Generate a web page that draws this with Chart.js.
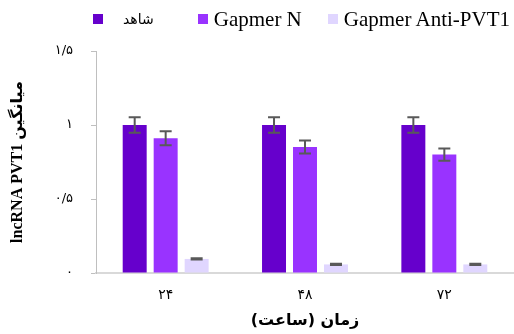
<!DOCTYPE html>
<html>
<head>
<meta charset="utf-8">
<script src="https://cdn.jsdelivr.net/npm/chart.js@4.4.0/dist/chart.umd.min.js"></script>
<style>
  body { margin: 0; background: #fff; }
  #wrap { position: relative; width: 514px; height: 334px; }
  #legend-container { position: absolute; left: 93px; top: 8px; height: 22px; display: flex; align-items: center; }
  .legend-item { display: flex; align-items: center; }
  .legend-box { display: inline-block; width: 10px; height: 10px; }
  .legend-text { font-family: 'Liberation Serif', serif; font-size: 21px; color: #000; line-height: 22px; }
  .legend-fa { font-family: 'DejaVu Sans', sans-serif; font-size: 14px; }
</style>
</head>
<body>
<div id="wrap">
  <canvas id="barChart" width="514" height="334"></canvas>
  <div id="legend-container"></div>
</div>
<script>
var hours = ['۲۴', '۴۸', '۷۲'];
var seriesNames = ['شاهد', 'Gapmer N', 'Gapmer Anti-PVT1'];
var seriesColors = ['#6600CC', '#9933FF', '#E0D6FF'];
var controlMean = [1.0, 1.0, 1.0];
var controlErr = [0.052, 0.052, 0.052];
var gapmerNMean = [0.91, 0.851, 0.80];
var gapmerNErr = [0.047, 0.044, 0.041];
var antiMean = [0.095, 0.058, 0.058];
var antiErr = [0.004, 0.004, 0.004];
var yTicks = [0, 0.5, 1, 1.5];

function toFa(v) {
  var digits = '۰۱۲۳۴۵۶۷۸۹';
  return String(v).replace('.', '/').replace(/[0-9]/g, function (d) { return digits[+d]; });
}

// draw error bars from each dataset's errors array
var errorBars = {
  id: 'errorBars',
  afterDatasetsDraw: function (chart) {
    var ctx = chart.ctx;
    var y = chart.scales.y;
    ctx.save();
    ctx.strokeStyle = '#595959';
    ctx.lineWidth = 2;
    chart.data.datasets.forEach(function (ds, i) {
      var meta = chart.getDatasetMeta(i);
      meta.data.forEach(function (bar, j) {
        var hi = y.getPixelForValue(ds.data[j] + ds.errors[j]);
        var lo = y.getPixelForValue(ds.data[j] - ds.errors[j]);
        ctx.beginPath();
        ctx.moveTo(bar.x, hi); ctx.lineTo(bar.x, lo);
        ctx.moveTo(bar.x - 6, hi); ctx.lineTo(bar.x + 6, hi);
        ctx.moveTo(bar.x - 6, lo); ctx.lineTo(bar.x + 6, lo);
        ctx.stroke();
      });
    });
    ctx.restore();
  }
};

var ctx = document.getElementById('barChart').getContext('2d');
var myBarChart = new Chart(ctx, {
  type: 'bar',
  data: {
    labels: hours,
    datasets: [
      { label: seriesNames[0], data: controlMean, errors: controlErr, backgroundColor: seriesColors[0] },
      { label: seriesNames[1], data: gapmerNMean, errors: gapmerNErr, backgroundColor: seriesColors[1] },
      { label: seriesNames[2], data: antiMean, errors: antiErr, backgroundColor: seriesColors[2] }
    ]
  },
  options: {
    responsive: false,
    animation: false,
    layout: { padding: { top: 51, right: 0, bottom: 0, left: 0 } },
    datasets: {
      bar: { barPercentage: 0.774, categoryPercentage: 0.667 }
    },
    scales: {
      x: {
        grid: { display: false, drawTicks: false },
        border: { color: '#d9d9d9', width: 2 },
        ticks: {
          color: '#000',
          padding: 14,
          font: { family: "'DejaVu Sans', sans-serif", size: 14 }
        },
        title: {
          display: true,
          text: 'زمان (ساعت)',
          color: '#000',
          padding: { top: 0, bottom: 4 },
          font: { family: "'DejaVu Sans', sans-serif", size: 16, weight: 'bold' }
        },
        afterFit: function (scale) { scale.height = 61; }
      },
      y: {
        min: 0,
        max: 1.5,
        afterBuildTicks: function (scale) {
          scale.ticks = yTicks.map(function (v) { return { value: v }; });
        },
        grid: { drawOnChartArea: false, drawTicks: true, tickLength: 5, color: '#bfbfbf' },
        border: { color: '#bfbfbf', width: 1 },
        ticks: {
          color: '#000',
          padding: 18,
          font: { family: "'DejaVu Sans', sans-serif", size: 13 },
          callback: function (v) { return toFa(v); }
        },
        title: {
          display: true,
          text: 'lncRNA PVT1 میانگین',
          color: '#000',
          padding: { top: 8, bottom: 0 },
          font: { family: "'Liberation Serif', 'DejaVu Sans', serif", size: 16, weight: 'bold' }
        },
        afterFit: function (scale) { scale.width = 96; }
      }
    },
    plugins: {
      legend: { display: false },
      tooltip: { enabled: false }
    }
  },
  plugins: [errorBars]
});

// legend built by hand to match the spacing of the original
var legendContainer = document.getElementById('legend-container');
legendContainer.innerHTML =
  '<span class="legend-item"><span class="legend-box" style="background:' + seriesColors[0] + ';margin-right:20px"></span>' +
  '<span class="legend-text legend-fa">' + seriesNames[0] + '</span></span>' +
  '<span class="legend-item" style="margin-left:44px"><span class="legend-box" style="background:' + seriesColors[1] + ';margin-right:6px"></span>' +
  '<span class="legend-text">' + seriesNames[1] + '</span></span>' +
  '<span class="legend-item" style="margin-left:26px"><span class="legend-box" style="background:' + seriesColors[2] + ';margin-right:6px"></span>' +
  '<span class="legend-text">' + seriesNames[2] + '</span></span>';
</script>
</body>
</html>
